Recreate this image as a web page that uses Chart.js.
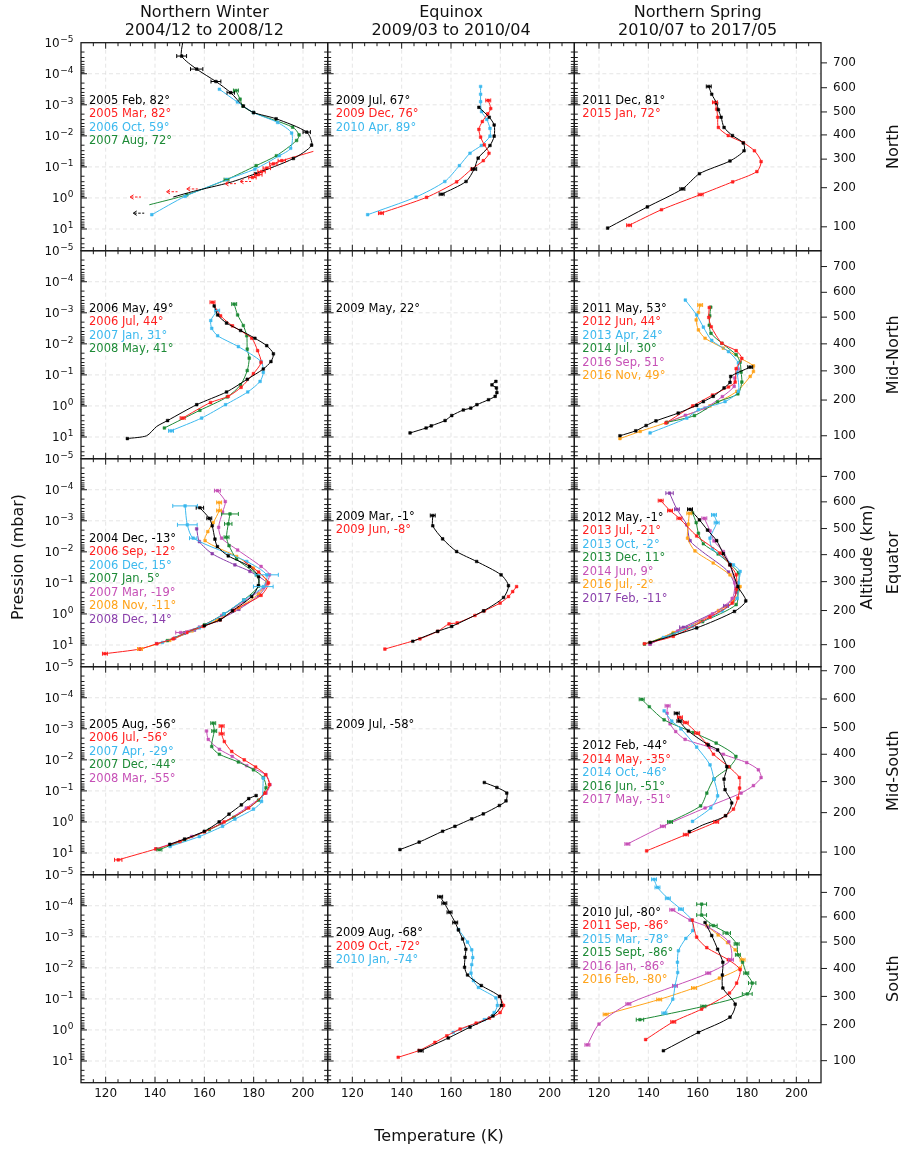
<!DOCTYPE html>
<html>
<head>
<meta charset="utf-8">
<script src="https://cdn.jsdelivr.net/npm/chart.js@4.4.0/dist/chart.umd.min.js"></script>
<style>
  body { margin: 0; background: #fff; }
  #fig { position: relative; width: 907px; height: 1151px; background: #fff; }
  #fig canvas { position: absolute; left: 0; top: 0; }
</style>
</head>
<body>
<div id="fig"></div>
<script>
// axis values
const tempTicks = [120, 140, 160, 180, 200];
const pressureExp = [-5, -4, -3, -2, -1, 0, 1];
const altKm = [100, 200, 300, 400, 500, 600, 700];
const altLogP_North = [0.93, -0.33, -1.25, -2.03, -2.77, -3.55, -4.35];
const altLogP_MidNorth = [0.96, -0.19, -1.13, -2.0, -2.86, -3.66, -4.49];
const altLogP_Equator = [0.99, -0.11, -1.04, -1.91, -2.75, -3.61, -4.43];
const altLogP_MidSouth = [0.97, -0.30, -1.30, -2.18, -3.04, -3.96, -4.87];
const altLogP_South = [0.99, -0.17, -1.08, -1.98, -2.83, -3.64, -4.43];

const seasons = [['Northern Winter', '2004/12 to 2008/12'], ['Equinox', '2009/03 to 2010/04'], ['Northern Spring', '2010/07 to 2017/05']];
const regions = ['North', 'Mid-North', 'Equator', 'Mid-South', 'South'];

// profiles: [temperature K, log10 pressure mbar, error K (negative = no marker)]
const winterNorth_2005Feb = [[151.2,-5.0,-1],[150.8,-4.57,2],[156.9,-4.15,2.5],[164.7,-3.75,2],[170.7,-3.39,1.5],[175.8,-2.96],[180.0,-2.75],[189.1,-2.55],[201.5,-2.12,1.5],[203.5,-1.70],[196.1,-1.27],[180.7,-0.78],[170.4,-0.50,-1],[155.5,-0.21,-1],[147.4,-0.03,-1]];
const winterNorth_2005Mar = [[204.2,-1.50,-1],[191.4,-1.20,1.5],[188.0,-1.10,1.5],[185.3,-0.96,1.5],[183.2,-0.85,1.5],[181.9,-0.75,1.5],[179.5,-0.66,1.5]];
const winterNorth_2006Oct = [[166.1,-3.50],[173.4,-3.09],[179.9,-2.75],[189.7,-2.43],[195.4,-2.09],[195.0,-1.60],[190.4,-1.36],[180.5,-0.93],[169.0,-0.59],[152.2,-0.05],[138.7,0.54]];
const winterNorth_2007Aug = [[172.8,-3.46,1],[174.5,-3.18],[175.6,-2.96],[179.9,-2.75],[195.8,-2.28],[198.4,-2.03],[197.4,-1.85],[189.2,-1.36],[181.0,-1.04],[169.0,-0.59,1],[152.9,-0.10],[137.7,0.22,-1]];
const winterNorth_limitsMar = [[176.5,-0.53],[170.4,-0.46],[154.9,-0.29],[146.7,-0.20],[131.9,-0.03]];
const winterNorth_limitsFeb = [[133.2,0.49]];

const equinoxNorth_2009Jul = [[171.3,-2.92],[175.5,-2.60],[177.5,-2.35],[177.5,-1.99],[175.8,-1.69],[171.0,-1.28],[169.4,-0.93,1],[166.1,-0.53],[156.2,-0.12,1]];
const equinoxNorth_2009Dec = [[175.1,-3.14,1],[176.1,-2.88],[174.9,-2.71],[172.7,-2.46],[171.3,-2.21],[172.0,-1.96],[173.5,-1.71],[175.4,-1.44],[173.1,-1.20],[168.4,-0.93],[162.3,-0.52],[150.1,-0.02],[131.6,0.49,1]];
const equinoxNorth_2010Apr = [[172.0,-3.59],[172.0,-3.34],[172.0,-3.10],[172.4,-2.78],[174.5,-2.53],[175.8,-2.24],[175.8,-1.99],[172.3,-1.69],[167.7,-1.44],[163.4,-1.04],[157.5,-0.53],[145.8,-0.03],[126.2,0.54]];

const springNorth_2011Dec = [[164.5,-3.59,1],[165.7,-3.34],[167.7,-3.05],[168.4,-2.84],[169.5,-2.60],[170.7,-2.27],[174.1,-2.01],[178.5,-1.77],[178.8,-1.52],[173.1,-1.19],[160.7,-0.78],[153.8,-0.29,1],[139.6,0.29],[123.5,0.97]];
const springNorth_2015Jan = [[167.0,-3.08,1],[167.7,-2.86],[168.1,-2.60],[168.4,-2.27],[172.4,-2.01],[178.5,-1.78],[183.0,-1.52],[185.7,-1.17],[184.0,-0.85],[174.2,-0.52],[161.2,-0.11,1],[145.3,0.38],[132.2,0.88,1]];

const winterMidNorth_2006May = [[164.0,-3.22],[165.4,-2.93],[169.0,-2.67],[174.7,-2.43],[180.5,-2.18],[185.3,-1.94],[188.0,-1.68],[187.0,-1.43],[183.9,-1.19],[177.4,-0.86],[169.0,-0.45],[156.9,-0.04],[145.1,0.47],[140.7,0.66,-1],[136.6,0.96,-1],[128.8,1.05]];
const winterMidNorth_2006Jul = [[163.3,-3.34,1],[166.6,-2.90],[171.4,-2.58],[179.2,-2.18],[181.6,-1.78],[183.0,-1.40],[179.9,-1.04],[174.9,-0.60],[169.7,-0.31],[162.5,-0.11],[151.2,0.39,1]];
const winterMidNorth_2007Jan = [[165.2,-3.07,1],[162.6,-2.75],[163.0,-2.50],[165.4,-2.26],[173.8,-1.91],[183.0,-1.43],[183.9,-1.08],[182.6,-0.79],[177.6,-0.45],[168.6,-0.04],[158.9,0.39],[146.5,0.80,1]];
const winterMidNorth_2008May = [[172.1,-3.28,1],[173.5,-2.93],[175.8,-2.59],[177.2,-2.26],[177.4,-1.83],[178.2,-1.54],[177.4,-1.14],[174.7,-0.68],[169.3,-0.29],[158.2,0.14],[143.8,0.71]];

const equinoxMidNorth_2009May = [[143.4,0.87],[149.9,0.71],[152.0,0.64],[157.6,0.47],[160.3,0.31],[165.0,0.13],[168.0,0.07],[170.5,-0.04],[175.2,-0.20],[177.9,-0.31],[178.6,-0.43],[178.4,-0.58],[176.6,-0.68],[178.2,-0.79]];

const springMidNorth_2011May = [[181.3,-1.25,1],[173.4,-0.95],[173.1,-0.76],[170.7,-0.58],[166.3,-0.31],[162.3,-0.14],[159.6,-0.02],[152.1,0.23],[143.1,0.48],[139.1,0.63],[134.9,0.80],[128.5,0.96]];
const springMidNorth_2012Jun = [[164.7,-3.17],[164.5,-2.85],[165.5,-2.55],[169.8,-2.02],[175.6,-1.78],[177.9,-1.53],[175.6,-1.20],[175.2,-0.77],[172.5,-0.61],[166.0,-0.35],[158.0,0.0],[147.1,0.55]];
const springMidNorth_2013Apr = [[155.0,-3.41],[159.6,-2.93],[162.3,-2.54],[165.7,-2.11],[172.5,-1.75],[176.5,-1.38],[176.1,-1.06],[176.5,-0.47],[171.1,-0.14],[160.3,0.12],[155.6,0.39],[140.7,0.87]];
const springMidNorth_2014Jul = [[165.3,-3.18],[164.9,-2.90],[164.7,-2.60],[165.4,-2.34],[169.8,-2.02],[175.6,-1.65],[177.2,-1.41],[177.6,-1.09],[177.9,-0.77],[176.3,-0.39],[168.1,-0.13],[158.7,0.31],[147.5,0.53]];
const springMidNorth_2016Sep = [[176.5,-1.19],[175.0,-0.90],[174.8,-0.63],[170.0,-0.30],[163.0,0.07],[155.0,0.30],[147.5,0.53]];
const springMidNorth_2016Nov = [[161.0,-3.25,1],[160.3,-3.01],[159.4,-2.77],[160.3,-2.45],[163.0,-2.18],[170.4,-1.86],[177.0,-1.55,-1],[182.6,-1.29],[182.6,-1.11],[181.3,-0.95],[175.9,-0.47],[165.0,0.0],[147.5,0.53],[136.7,0.82],[128.5,1.05]];

const winterEquator_2004Dec = [[158.2,-3.42,1.5],[162.0,-3.08,1],[163.2,-2.84],[164.3,-2.41],[165.3,-2.17],[169.7,-1.87],[178.3,-1.53],[182.0,-1.20],[181.9,-0.91],[179.2,-0.56],[171.4,-0.10],[166.4,0.19],[160.0,0.38]];
const winterEquator_2006Sep = [[176.0,-1.70,-1],[182.0,-1.35],[186.0,-1.00],[183.0,-0.60],[172.0,-0.12],[166.4,0.19],[159.6,0.40],[152.9,0.60],[147.4,0.80],[140.7,0.96],[133.9,1.13],[119.7,1.28,1]];
const winterEquator_2006Dec = [[152.2,-3.48,5],[153.1,-2.87,4],[155.5,-2.44,1.5],[177.2,-1.69],[185.3,-1.26,4.7],[183.9,-0.88,4],[176.0,-0.45],[168.0,0.0],[158.0,0.45],[143.0,0.92]];
const winterEquator_2007Jan = [[170.4,-3.22,3.4],[169.7,-2.90,1.5],[169.0,-2.47,1],[170.0,-2.20],[173.1,-1.77],[181.2,-1.26],[182.0,-0.90],[176.0,-0.45],[168.0,0.0],[160.0,0.35],[152.0,0.62],[145.0,0.86]];
const winterEquator_2007Mar = [[165.3,-3.97,1.2],[168.5,-3.62],[167.4,-3.28],[165.8,-2.79],[167.0,-2.44],[173.5,-2.06],[183.0,-1.53],[186.4,-1.26],[184.0,-0.85],[176.0,-0.40],[167.0,0.05],[158.0,0.42],[150.4,0.60,2]];
const winterEquator_2008Nov = [[166.0,-3.59,1],[166.0,-3.33,1],[163.6,-2.94],[161.4,-2.65],[160.3,-2.36],[173.1,-1.85],[179.9,-1.48],[185.3,-1.04],[182.0,-0.65],[174.0,-0.20],[165.0,0.20],[155.0,0.55],[146.0,0.85],[133.9,1.13,1]];
const winterEquator_2008Dec = [[156.9,-2.74],[158.0,-2.33],[163.2,-1.94],[172.4,-1.58],[178.5,-1.37],[185.3,-0.99],[182.0,-0.60],[174.0,-0.15],[165.0,0.22],[156.0,0.52],[148.0,0.78],[140.7,0.96]];

const equinoxEquator_2009Mar = [[152.6,-3.17,1],[152.6,-2.84],[156.6,-2.42],[162.3,-2.01],[170.4,-1.69],[180.3,-1.26],[183.3,-0.91],[181.3,-0.53],[173.2,-0.10],[160.3,0.40],[154.6,0.56],[144.5,0.88]];
const equinoxEquator_2009Jun = [[186.6,-0.88],[185.0,-0.72],[183.3,-0.56],[179.9,-0.35],[173.5,-0.10],[169.7,0.05],[162.5,0.29],[159.2,0.32],[154.6,0.56],[147.4,0.80],[133.2,1.13]];

const springEquator_2012May = [[156.9,-3.37,1],[160.7,-3.03],[164.0,-2.70],[167.7,-2.36],[170.4,-1.94],[173.1,-1.58],[176.3,-0.88],[179.5,-0.42],[174.9,-0.08],[159.6,0.45],[140.7,0.92]];
const springEquator_2013Jul = [[145.0,-3.65,1],[148.8,-3.33,1],[152.6,-3.08,1],[159.6,-2.51],[169.1,-1.96],[173.1,-1.58],[175.6,-1.26],[175.8,-0.80],[174.0,-0.35],[165.0,0.10],[150.1,0.72],[138.4,0.96]];
const springEquator_2013Oct = [[166.6,-3.19,1],[167.7,-2.94,1],[165.0,-2.44],[166.0,-2.10],[174.5,-1.58],[177.2,-1.37],[176.5,-1.00],[176.0,-0.50],[170.0,-0.10],[158.0,0.40],[146.1,0.76]];
const springEquator_2013Dec = [[157.9,-3.26],[159.4,-2.94],[160.3,-2.60],[162.3,-2.26],[168.3,-1.93],[176.5,-1.32],[176.3,-0.78],[175.6,-0.30],[162.0,0.25],[150.0,0.65],[138.4,0.97]];
const springEquator_2014Jun = [[162.7,-3.08,1],[165.0,-2.68],[166.6,-2.35],[170.4,-2.01],[173.0,-1.60],[175.0,-1.00],[174.0,-0.50],[166.0,0.0],[152.0,0.55],[140.7,0.97]];
const springEquator_2016Jul = [[156.6,-3.24,1],[156.2,-2.89],[155.9,-2.44],[158.9,-2.03],[166.3,-1.64],[173.1,-1.26],[177.2,-0.88],[174.5,-0.40],[168.4,-0.11],[161.0,0.24],[150.1,0.60],[140.7,0.92]];
const springEquator_2017Feb = [[148.6,-3.89,1.5],[151.6,-3.37,1],[155.6,-2.87],[156.9,-2.36],[162.0,-2.00,-1],[172.5,-1.35],[175.6,-0.69],[171.5,-0.26,1],[154.2,0.43,1.5],[140.7,0.97]];

const winterMidSouth_2005Aug = [[181.0,-0.85],[178.0,-0.75],[175.0,-0.55],[170.0,-0.25],[166.0,0.0],[160.0,0.30],[152.0,0.55],[146.0,0.72]];
const winterMidSouth_2006Jul = [[167.0,-3.09,1],[167.0,-2.84,1],[168.1,-2.59],[171.1,-2.27],[176.2,-2.00],[180.8,-1.77],[184.9,-1.52],[186.4,-1.20],[184.6,-0.93],[178.0,-0.45],[168.0,0.0],[160.0,0.32],[150.1,0.63],[140.4,0.87],[125.1,1.22,1.5]];
const winterMidSouth_2007Apr = [[183.9,-1.41],[183.2,-0.66],[179.9,-0.41],[172.4,-0.09],[167.4,0.14],[158.0,0.47],[146.1,0.79]];
const winterMidSouth_2007Dec = [[163.6,-3.18,1],[164.0,-2.93,1],[163.0,-2.43],[166.1,-2.18],[173.8,-1.93],[179.9,-1.68],[183.9,-1.43],[185.0,-1.10],[182.0,-0.70],[172.0,-0.15],[162.0,0.25],[152.0,0.58],[141.8,0.89,1]];
const winterMidSouth_2008Mar = [[160.9,-2.93],[161.6,-2.66],[166.1,-2.34],[171.3,-2.11],[177.2,-1.81],[184.9,-1.52],[186.6,-1.20],[185.0,-0.93],[177.0,-0.45],[167.0,0.05],[154.9,0.47],[140.3,0.87]];

const equinoxMidSouth_2009Jul = [[139.3,0.89],[147.1,0.65],[156.6,0.30],[161.6,0.14],[168.4,-0.10],[173.1,-0.26],[179.6,-0.53],[182.3,-0.68],[182.6,-0.93],[178.6,-1.11],[173.5,-1.27]];

const springMidSouth_2012Feb = [[151.5,-3.50,1],[152.6,-3.25,1],[156.2,-2.93],[164.3,-2.48],[168.1,-2.32],[171.8,-1.78],[170.7,-1.38],[171.1,-1.04],[173.8,-0.61],[171.3,-0.20],[162.0,0.10,-1],[156.6,0.31]];
const springMidSouth_2014May = [[152.8,-3.37,1],[155.2,-3.20,1],[159.8,-2.86,1],[163.7,-2.51],[166.4,-2.18],[172.5,-1.78],[176.9,-1.43],[177.0,-1.09],[176.3,-0.77],[174.5,-0.41],[171.3,-0.20],[167.5,0.0,1],[155.2,0.41,1],[139.3,0.93]];
const springMidSouth_2014Oct = [[146.4,-3.58],[149.5,-3.25],[153.2,-3.00],[159.6,-2.41],[165.0,-1.84],[166.6,-1.38],[168.1,-0.84],[165.3,-0.45],[157.9,-0.02]];
const springMidSouth_2016Jun = [[137.3,-3.95,1],[140.4,-3.71],[146.4,-3.29],[158.2,-2.88],[167.5,-2.54],[175.5,-2.11],[172.9,-1.77],[166.6,-1.38],[163.7,-0.93],[161.2,-0.52],[148.8,0.0,1]];
const springMidSouth_2017May = [[147.8,-3.74,1],[147.6,-3.50],[148.8,-3.16],[151.1,-2.91],[154.9,-2.66],[164.7,-2.41],[170.4,-2.18],[179.9,-1.91],[184.6,-1.68],[185.7,-1.43],[182.6,-1.17],[177.6,-0.93],[163.0,-0.45],[145.9,0.14,1],[131.5,0.71,1]];

const equinoxSouth_2009Aug = [[155.6,-4.29,1],[157.3,-4.08,1],[159.4,-3.79,1],[161.7,-3.46,1],[163.0,-3.22],[164.7,-2.93],[166.0,-2.60],[165.7,-2.34],[165.5,-2.02],[166.7,-1.77],[172.3,-1.43],[179.7,-1.08],[180.4,-0.79],[177.0,-0.45],[167.7,-0.09],[158.9,0.26],[147.7,0.67,1]];
const equinoxSouth_2009Oct = [[179.7,-1.08],[181.3,-0.79],[179.9,-0.56],[175.6,-0.38],[170.2,-0.22],[163.7,-0.03],[158.3,0.19],[153.5,0.40],[147.1,0.66],[138.6,0.88]];
const equinoxSouth_2010Jan = [[163.0,-3.24],[166.7,-2.83],[168.4,-2.58],[168.8,-2.33],[168.4,-2.10],[168.1,-1.83],[169.1,-1.59],[171.1,-1.37],[178.2,-1.03],[178.8,-0.79],[177.5,-0.56],[173.5,-0.33],[160.9,0.08]];

const springSouth_2010Jul = [[163.0,-3.46],[165.7,-3.04],[168.1,-2.60],[170.2,-2.18],[170.0,-1.77],[170.2,-1.35],[175.2,-0.83],[173.1,-0.41],[160.3,0.08],[146.1,0.67]];
const springSouth_2011Sep = [[157.8,-3.54],[159.6,-2.99],[163.7,-2.65],[172.4,-2.26],[177.2,-1.94],[175.8,-1.51],[172.9,-1.19],[161.6,-0.67],[150.1,-0.26,1],[138.9,0.31]];
const springSouth_2015Mar = [[142.3,-4.85,1],[143.7,-4.59,1],[147.9,-4.24,1],[153.2,-3.89,1],[157.6,-3.54],[158.0,-3.20],[155.2,-2.95],[152.2,-2.55],[151.8,-2.18],[151.9,-1.85],[150.8,-1.42],[149.9,-0.99],[146.5,-0.54,1]];
const springSouth_2015Sep = [[161.6,-4.05,2],[161.6,-3.70,2],[166.4,-3.36,1.5],[171.8,-3.12,1.5],[175.8,-2.77,1],[176.3,-2.42,1],[178.2,-2.18],[179.7,-1.83,1],[182.1,-1.51,1.5],[180.1,-1.16,2],[162.3,-0.76,1],[136.6,-0.33,1.5]];
const springSouth_2016Jan = [[149.7,-3.87,1],[156.9,-3.54],[164.3,-3.31],[172.6,-2.84],[173.5,-2.26,1],[164.3,-1.83,1],[150.8,-1.42,1],[131.9,-0.84,1],[120.0,-0.19],[115.3,0.48,1]];
const springSouth_2016Feb = [[163.7,-3.35],[168.3,-3.06],[172.1,-2.81],[175.2,-2.58],[178.2,-2.26,1],[177.2,-1.99],[168.8,-1.67],[158.5,-1.35,1],[144.4,-0.98,1],[122.7,-0.50,1]];

// colours
const BLACK = '#000000', RED = '#ff1f1f', CYAN = '#3cb9ee', GREEN = '#1d8a36',
      MAGENTA = '#c650b6', ORANGE = '#ffa31a', PURPLE = '#8a3fab';

const panels = [
  { row: 0, col: 0, legendTop: 58, series: [
      ['2005 Feb, 82°', BLACK, winterNorth_2005Feb], ['2005 Mar, 82°', RED, winterNorth_2005Mar],
      ['2006 Oct, 59°', CYAN, winterNorth_2006Oct], ['2007 Aug, 72°', GREEN, winterNorth_2007Aug]],
    arrows: [[RED, winterNorth_limitsMar], [BLACK, winterNorth_limitsFeb]] },
  { row: 0, col: 1, legendTop: 58, series: [
      ['2009 Jul, 67°', BLACK, equinoxNorth_2009Jul], ['2009 Dec, 76°', RED, equinoxNorth_2009Dec],
      ['2010 Apr, 89°', CYAN, equinoxNorth_2010Apr]] },
  { row: 0, col: 2, legendTop: 58, alt: altLogP_North, series: [
      ['2011 Dec, 81°', BLACK, springNorth_2011Dec], ['2015 Jan, 72°', RED, springNorth_2015Jan]] },
  { row: 1, col: 0, legendTop: 58, series: [
      ['2006 May, 49°', BLACK, winterMidNorth_2006May], ['2006 Jul, 44°', RED, winterMidNorth_2006Jul],
      ['2007 Jan, 31°', CYAN, winterMidNorth_2007Jan], ['2008 May, 41°', GREEN, winterMidNorth_2008May]] },
  { row: 1, col: 1, legendTop: 58, series: [['2009 May, 22°', BLACK, equinoxMidNorth_2009May]] },
  { row: 1, col: 2, legendTop: 58, alt: altLogP_MidNorth, series: [
      ['2011 May, 53°', BLACK, springMidNorth_2011May], ['2012 Jun, 44°', RED, springMidNorth_2012Jun],
      ['2013 Apr, 24°', CYAN, springMidNorth_2013Apr], ['2014 Jul, 30°', GREEN, springMidNorth_2014Jul],
      ['2016 Sep, 51°', MAGENTA, springMidNorth_2016Sep], ['2016 Nov, 49°', ORANGE, springMidNorth_2016Nov]] },
  { row: 2, col: 0, legendTop: 80, series: [
      ['2004 Dec, -13°', BLACK, winterEquator_2004Dec], ['2006 Sep, -12°', RED, winterEquator_2006Sep],
      ['2006 Dec, 15°', CYAN, winterEquator_2006Dec], ['2007 Jan, 5°', GREEN, winterEquator_2007Jan],
      ['2007 Mar, -19°', MAGENTA, winterEquator_2007Mar], ['2008 Nov, -11°', ORANGE, winterEquator_2008Nov],
      ['2008 Dec, 14°', PURPLE, winterEquator_2008Dec]] },
  { row: 2, col: 1, legendTop: 58, series: [
      ['2009 Mar, -1°', BLACK, equinoxEquator_2009Mar], ['2009 Jun, -8°', RED, equinoxEquator_2009Jun]] },
  { row: 2, col: 2, legendTop: 59, alt: altLogP_Equator, series: [
      ['2012 May, -1°', BLACK, springEquator_2012May], ['2013 Jul, -21°', RED, springEquator_2013Jul],
      ['2013 Oct, -2°', CYAN, springEquator_2013Oct], ['2013 Dec, 11°', GREEN, springEquator_2013Dec],
      ['2014 Jun, 9°', MAGENTA, springEquator_2014Jun], ['2016 Jul, -2°', ORANGE, springEquator_2016Jul],
      ['2017 Feb, -11°', PURPLE, springEquator_2017Feb]] },
  { row: 3, col: 0, legendTop: 58, series: [
      ['2005 Aug, -56°', BLACK, winterMidSouth_2005Aug], ['2006 Jul, -56°', RED, winterMidSouth_2006Jul],
      ['2007 Apr, -29°', CYAN, winterMidSouth_2007Apr], ['2007 Dec, -44°', GREEN, winterMidSouth_2007Dec],
      ['2008 Mar, -55°', MAGENTA, winterMidSouth_2008Mar]] },
  { row: 3, col: 1, legendTop: 58, series: [['2009 Jul, -58°', BLACK, equinoxMidSouth_2009Jul]] },
  { row: 3, col: 2, legendTop: 79.5, alt: altLogP_MidSouth, series: [
      ['2012 Feb, -44°', BLACK, springMidSouth_2012Feb], ['2014 May, -35°', RED, springMidSouth_2014May],
      ['2014 Oct, -46°', CYAN, springMidSouth_2014Oct], ['2016 Jun, -51°', GREEN, springMidSouth_2016Jun],
      ['2017 May, -51°', MAGENTA, springMidSouth_2017May]] },
  { row: 4, col: 0, legendTop: 58, series: [] },
  { row: 4, col: 1, legendTop: 58.5, series: [
      ['2009 Aug, -68°', BLACK, equinoxSouth_2009Aug], ['2009 Oct, -72°', RED, equinoxSouth_2009Oct],
      ['2010 Jan, -74°', CYAN, equinoxSouth_2010Jan]] },
  { row: 4, col: 2, legendTop: 38, alt: altLogP_South, series: [
      ['2010 Jul, -80°', BLACK, springSouth_2010Jul], ['2011 Sep, -86°', RED, springSouth_2011Sep],
      ['2015 Mar, -78°', CYAN, springSouth_2015Mar], ['2015 Sept, -86°', GREEN, springSouth_2015Sep],
      ['2016 Jan, -86°', MAGENTA, springSouth_2016Jan], ['2016 Feb, -80°', ORANGE, springSouth_2016Feb]] }
];

// layout
const W = 907, H = 1151;
const PANEL_LEFT = 81, PANEL_TOP = 42.7, PANEL_W = 246.67, PANEL_H = 208;
const FONT = '"DejaVu Sans", "Liberation Sans", sans-serif';

function seg(ctx, x0, y0, x1, y1) {
  ctx.beginPath(); ctx.moveTo(x0, y0); ctx.lineTo(x1, y1); ctx.stroke();
}

// "10" with a raised exponent, right-aligned at x
function powerLabel(ctx, n, x, y) {
  const exp = String(n).replace('-', '\u2212');
  ctx.font = '9px ' + FONT;
  const we = ctx.measureText(exp).width;
  ctx.textAlign = 'right';
  ctx.textBaseline = 'alphabetic';
  ctx.fillText(exp, x, y - 0.5);
  ctx.font = '12px ' + FONT;
  ctx.fillText('10', x - we - 0.5, y + 4.4);
}

const framePlugin = {
  id: 'frame',
  beforeDatasetsDraw(chart, args, o) {
    const { ctx, chartArea: a } = chart;
    const xs = chart.scales.x, ys = chart.scales.y;
    ctx.save();
    ctx.strokeStyle = '#dedede';
    ctx.lineWidth = 0.8;
    ctx.setLineDash([4, 3]);
    tempTicks.forEach(t => { const px = xs.getPixelForValue(t); seg(ctx, px, a.top, px, a.bottom); });
    pressureExp.forEach(n => {
      if (n === -5) return;
      const py = ys.getPixelForValue(Math.pow(10, n));
      seg(ctx, a.left, py, a.right, py);
    });
    ctx.restore();
  },
  afterDatasetsDraw(chart, args, o) {
    const { ctx, chartArea: a } = chart;
    const xs = chart.scales.x, ys = chart.scales.y;
    ctx.save();
    ctx.beginPath(); ctx.rect(a.left, a.top, a.width, a.height); ctx.clip();

    // error bars
    chart.data.datasets.forEach((ds, i) => {
      const meta = chart.getDatasetMeta(i);
      ctx.strokeStyle = ds.borderColor;
      ctx.lineWidth = 1;
      ds.data.forEach((d, j) => {
        if (!(d.e > 0)) return;
        const py = meta.data[j].y;
        const x0 = xs.getPixelForValue(d.x - d.e), x1 = xs.getPixelForValue(d.x + d.e);
        ctx.beginPath();
        ctx.moveTo(x0, py); ctx.lineTo(x1, py);
        ctx.moveTo(x0, py - 2); ctx.lineTo(x0, py + 2);
        ctx.moveTo(x1, py - 2); ctx.lineTo(x1, py + 2);
        ctx.stroke();
      });
    });

    // upper-limit arrows
    (o.arrows || []).forEach(([color, pts]) => {
      ctx.strokeStyle = color;
      ctx.lineWidth = 1;
      pts.forEach(([t, lp]) => {
        const px = xs.getPixelForValue(t), py = ys.getPixelForValue(Math.pow(10, lp));
        ctx.setLineDash([2.5, 1.5]);
        seg(ctx, px - 4, py, px + 6, py);
        ctx.setLineDash([]);
        ctx.beginPath();
        ctx.moveTo(px - 1.5, py - 2.2); ctx.lineTo(px - 5, py); ctx.lineTo(px - 1.5, py + 2.2);
        ctx.stroke();
      });
    });
    ctx.restore();

    ctx.save();
    ctx.strokeStyle = '#1a1a1a';
    ctx.lineWidth = 1;
    // temperature ticks, inward top and bottom
    for (let t = 115; t < 210; t += 5) {
      const px = xs.getPixelForValue(t);
      const len = t % 20 === 0 ? 6 : 3.5;
      seg(ctx, px, a.bottom, px, a.bottom - len);
      seg(ctx, px, a.top, px, a.top + len);
    }
    // pressure ticks, inward
    for (let n = -5; n <= 1; n++) {
      for (let m = 1; m <= 9; m++) {
        const v = m * Math.pow(10, n);
        if (v <= 1.0001e-5 || v >= 50) continue;
        const py = ys.getPixelForValue(v);
        const len = m === 1 ? 6 : 3.5;
        seg(ctx, a.left, py, a.left + len, py);
        if (o.col < 2) seg(ctx, a.right, py, a.right - len, py);
      }
    }
    ctx.lineWidth = 1.3;
    ctx.strokeRect(a.left, a.top, a.width, a.height);

    ctx.fillStyle = '#111';
    if (o.col === 0) {
      pressureExp.forEach(n => powerLabel(ctx, n, a.left - 7.5, ys.getPixelForValue(Math.pow(10, n))));
    }
    ctx.font = '12px ' + FONT;
    if (o.row === 4) {
      ctx.textAlign = 'center'; ctx.textBaseline = 'top';
      tempTicks.forEach(t => ctx.fillText(String(t), xs.getPixelForValue(t), a.bottom + 5));
    }
    if (o.alt) {
      ctx.textAlign = 'left'; ctx.textBaseline = 'middle';
      ctx.lineWidth = 1;
      o.alt.forEach((lp, i) => {
        const py = ys.getPixelForValue(Math.pow(10, lp));
        seg(ctx, a.right, py, a.right + 6, py);
        ctx.fillText(String(altKm[i]), a.right + 12, py);
      });
    }

    // legend as coloured text
    ctx.font = '11.5px ' + FONT;
    ctx.textAlign = 'left'; ctx.textBaseline = 'middle';
    chart.data.datasets.forEach((ds, i) => {
      ctx.fillStyle = ds.borderColor;
      ctx.fillText(ds.label, a.left + 8, a.top + o.legendTop + i * 13.5);
    });
    ctx.restore();
  }
};

const figureText = {
  id: 'figureText',
  afterDraw(chart) {
    const ctx = chart.ctx;
    ctx.save();
    ctx.fillStyle = '#111';
    ctx.font = '16px ' + FONT;
    ctx.textAlign = 'center'; ctx.textBaseline = 'middle';
    seasons.forEach((s, i) => {
      const cx = PANEL_LEFT + (i + 0.5) * PANEL_W;
      ctx.fillText(s[0], cx, 12.7);
      ctx.fillText(s[1], cx, 30.7);
    });
    ctx.fillText('Temperature (K)', 439, 1137);
    const vtext = (txt, x, y) => {
      ctx.save(); ctx.translate(x, y); ctx.rotate(-Math.PI / 2); ctx.fillText(txt, 0, 0); ctx.restore();
    };
    vtext('Pression (mbar)', 18.5, 557);
    vtext('Altitude (km)', 868, 557);
    regions.forEach((r, i) => vtext(r, 894, PANEL_TOP + i * PANEL_H + PANEL_H / 2));
    ctx.restore();
  }
};

const fig = document.getElementById('fig');

panels.forEach((p, idx) => {
  const canvas = document.createElement('canvas');
  canvas.width = W; canvas.height = H;
  fig.appendChild(canvas);
  const left = PANEL_LEFT + p.col * PANEL_W, top = PANEL_TOP + p.row * PANEL_H;
  new Chart(canvas.getContext('2d'), {
    type: 'scatter',
    data: {
      datasets: p.series.map(([label, color, pts]) => ({
        label: label,
        data: pts.map(d => ({ x: d[0], y: Math.pow(10, d[1]), e: d[2] || 0 })),
        borderColor: color,
        backgroundColor: color,
        showLine: true,
        borderWidth: 1,
        tension: 0.25,
        pointStyle: 'rect',
        pointRadius: ctx => (ctx.raw && ctx.raw.e < 0) ? 0 : 1.9,
        pointBorderWidth: 0.5,
        pointHoverRadius: 0
      }))
    },
    options: {
      responsive: false,
      animation: false,
      devicePixelRatio: 1,
      events: [],
      layout: { padding: { left: left, top: top, right: W - left - PANEL_W, bottom: H - top - PANEL_H } },
      plugins: {
        legend: { display: false },
        tooltip: { enabled: false },
        frame: { row: p.row, col: p.col, legendTop: p.legendTop, alt: p.alt, arrows: p.arrows }
      },
      scales: {
        x: { type: 'linear', min: 110, max: 210, display: false },
        y: { type: 'logarithmic', min: 1e-5, max: 50, reverse: true, display: false }
      }
    },
    plugins: idx === 0 ? [framePlugin, figureText] : [framePlugin]
  });
});
</script>
</body>
</html>
